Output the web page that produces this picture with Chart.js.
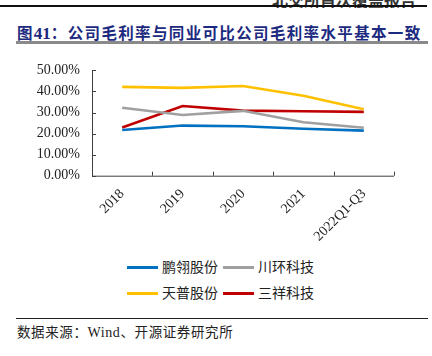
<!DOCTYPE html>
<html><head><meta charset="utf-8">
<script src="https://cdn.jsdelivr.net/npm/chart.js@4"></script>
<style>
html,body{margin:0;padding:0;background:#fff;width:432px;height:356px;overflow:hidden;position:relative;}
.abs{position:absolute;white-space:nowrap;}
#hdr{left:272px;top:-13px;font:bold 16px "Noto Sans CJK SC";color:#333;}
#topline{left:0;top:5px;width:427px;height:2px;background:#111;}
#title{left:17px;top:21px;font:bold 15.5px "Noto Sans CJK SC";color:#1c2a80;line-height:22px;letter-spacing:1.35px;}
#title .n{font-family:"Liberation Serif";font-size:17px;letter-spacing:0;}
#uline{left:16px;top:41px;width:412px;height:2.5px;background:#8a8a8a;}
#fline{left:16px;top:318px;width:412px;height:1px;background:#222;}
#foot{left:17px;top:322px;font:13.5px "Noto Sans CJK SC";color:#222;letter-spacing:0.6px;line-height:18px;}
#foot .w{font-family:"Liberation Serif";font-size:14px;}
#cwrap{left:0;top:50px;width:432px;height:200px;}
.leg{position:absolute;font:14px "Noto Sans CJK SC";color:#222;line-height:18px;white-space:nowrap;}
.sw{position:absolute;width:31px;height:3px;}
</style></head><body>
<div class="abs" id="hdr">北交所首次覆盖报告</div>
<div class="abs" id="topline"></div>
<div class="abs" id="title">图<span class="n">41</span>：公司毛利率与同业可比公司毛利率水平基本一致</div>
<div class="abs" id="uline"></div>
<div class="abs" id="cwrap"><canvas id="c" width="432" height="200"></canvas></div>
<div id="legend"></div>
<div class="abs" id="fline"></div>
<div class="abs" id="foot">数据来源：<span class="w">Wind</span>、开源证券研究所</div>
<script>
const categories = ["2018","2019","2020","2021","2022Q1-Q3"];
const seriesNames = ["鹏翎股份","川环科技","天普股份","三祥科技"];
const pengling = [21.7, 23.8, 23.5, 22.3, 21.4];
const chuanhuan = [32.3, 28.8, 30.8, 25.4, 22.8];
const tianpu = [42.2, 41.7, 42.6, 38.0, 31.6];
const sanxiang = [22.9, 33.1, 30.9, 30.6, 30.3];
const yTicks = [0, 10, 20, 30, 40, 50];
const colors = ["#0070c0","#a0a0a0","#ffc000","#c00000"];
const seriesData = [pengling, chuanhuan, tianpu, sanxiang];

// legend (HTML), 2 per row
const legPos = [[127,267],[223,267],[127,293],[223,293]];
const legEl = document.getElementById('legend');
seriesNames.forEach((n,i)=>{
  const sw=document.createElement('div');sw.className='sw';
  sw.style.left=legPos[i][0]+'px';sw.style.top=(legPos[i][1]-1.5)+'px';sw.style.background=colors[i];
  legEl.appendChild(sw);
  const t=document.createElement('div');t.className='leg';t.textContent=n;
  t.style.left=(legPos[i][0]+35)+'px';t.style.top=(legPos[i][1]-10)+'px';
  legEl.appendChild(t);
});

const axisColor = "#404040";
const tickPlugin = {
  id:'inTicks',
  afterDraw(chart){
    const ctx=chart.ctx, x=chart.scales.x, y=chart.scales.y, a=chart.chartArea;
    ctx.save();
    ctx.strokeStyle=axisColor; ctx.lineWidth=1;
    ctx.beginPath();
    ctx.moveTo(a.left+0.5,a.top); ctx.lineTo(a.left+0.5,a.bottom+0.5); ctx.lineTo(a.right,a.bottom+0.5);
    yTicks.forEach(v=>{const py=Math.round(y.getPixelForValue(v))+0.5; ctx.moveTo(a.left,py); ctx.lineTo(a.left+4,py);});
    for(let i=0;i<=categories.length;i++){
      const px=Math.round(x.getPixelForValue(i-0.5))+0.5;
      ctx.moveTo(px,a.bottom); ctx.lineTo(px,a.bottom-4);
    }
    ctx.stroke();
    ctx.restore();
  }
};

new Chart(document.getElementById('c'),{
  type:'line',
  data:{labels:categories,datasets:seriesData.map((d,i)=>({label:seriesNames[i],data:d,borderColor:colors[i],backgroundColor:colors[i],borderWidth:2.6,pointRadius:0,tension:0,fill:false}))},
  options:{
    responsive:false,animation:false,devicePixelRatio:1,
    layout:{padding:{left:0,right:38,top:17,bottom:0}},
    plugins:{legend:{display:false},tooltip:{enabled:false}},
    scales:{
      x:{type:'category',offset:true,
        grid:{display:false,drawTicks:false},border:{display:false},
        ticks:{font:{family:"Liberation Serif",size:14},color:"#222",maxRotation:45,minRotation:45,padding:10,autoSkip:false},
        afterFit(s){s.height=74.3;}
      },
      y:{min:0,max:50,
        afterBuildTicks(s){s.ticks=yTicks.map(v=>({value:v}));},
        grid:{display:false,drawTicks:false},border:{display:false},
        ticks:{font:{family:"Liberation Serif",size:14},color:"#222",padding:12,callback:v=>v.toFixed(2)+'%'},
        afterFit(s){s.width=92;}
      }
    }
  },
  plugins:[tickPlugin]
});
</script>
</body></html>
